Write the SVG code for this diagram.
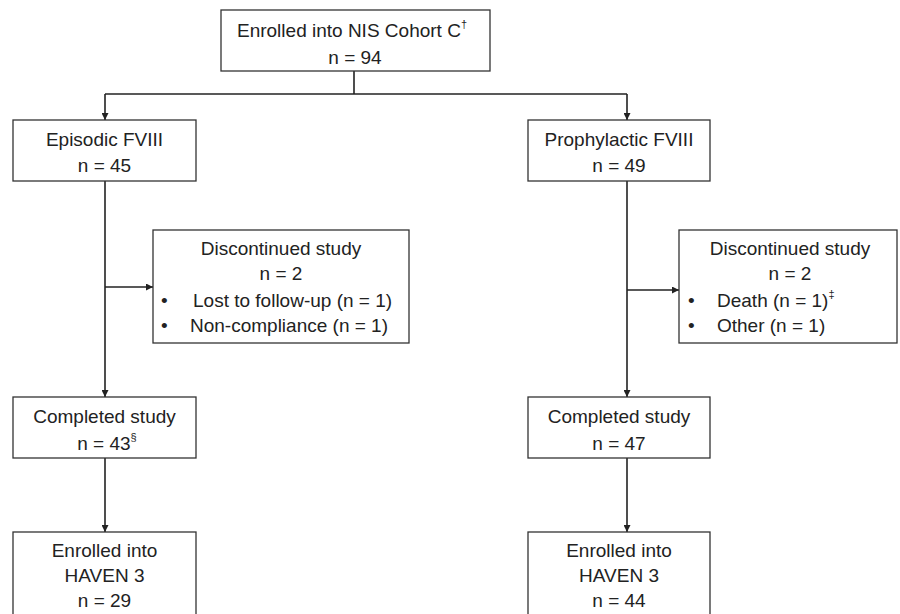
<svg xmlns="http://www.w3.org/2000/svg" width="900" height="614" viewBox="0 0 900 614">
<style>
.box{fill:#fff;stroke:#333;stroke-width:1.3}
.t{font-family:"Liberation Sans",Arial,sans-serif;font-size:19px;fill:#222;text-anchor:middle}
.l{text-anchor:start}
.sup{font-size:11px}
.c{fill:none;stroke:#222;stroke-width:1.6}
</style>
<defs>
<marker id="ah" viewBox="0 0 10 10" refX="10" refY="5" markerWidth="7" markerHeight="7" markerUnits="userSpaceOnUse" orient="auto">
<path d="M0,0 L10,5 L0,10 z" fill="#222"/>
</marker>
</defs>
<rect width="900" height="614" fill="#fff"/>
<g id="connectors">
<path class="c" d="M354,71 V94"/>
<path class="c" d="M105,94 H627" />
<path class="c" d="M105,94 V120" marker-end="url(#ah)"/>
<path class="c" d="M627,94 V120" marker-end="url(#ah)"/>
<path class="c" d="M105,181 V397" marker-end="url(#ah)"/>
<path class="c" d="M105,287 H153" marker-end="url(#ah)"/>
<path class="c" d="M627,181 V397" marker-end="url(#ah)"/>
<path class="c" d="M627,290 H679" marker-end="url(#ah)"/>
<path class="c" d="M105,458 V532" marker-end="url(#ah)"/>
<path class="c" d="M627,458 V532" marker-end="url(#ah)"/>
</g>
<g id="n-enrolled">
<rect class="box" x="221" y="10" width="269" height="61"/>
<text class="t" x="352" y="37">Enrolled into NIS Cohort C<tspan class="sup" dy="-9">†</tspan></text>
<text class="t" x="355" y="64">n = 94</text>
</g>
<g id="n-episodic">
<rect class="box" x="13" y="120" width="183" height="61"/>
<text class="t" x="104.5" y="146">Episodic FVIII</text>
<text class="t" x="104.5" y="172">n = 45</text>
</g>
<g id="n-prophylactic">
<rect class="box" x="528" y="120" width="182" height="61"/>
<text class="t" x="619" y="146">Prophylactic FVIII</text>
<text class="t" x="619" y="172">n = 49</text>
</g>
<g id="n-disc-left">
<rect class="box" x="153" y="230" width="256" height="113"/>
<text class="t" x="281" y="255">Discontinued study</text>
<text class="t" x="281" y="280">n = 2</text>
<text class="t l" x="161" y="307">•</text>
<text class="t l" x="193" y="307">Lost to follow-up (n = 1)</text>
<text class="t l" x="161" y="332">•</text>
<text class="t l" x="190" y="332">Non-compliance (n = 1)</text>
</g>
<g id="n-disc-right">
<rect class="box" x="679" y="230" width="218" height="113"/>
<text class="t" x="790" y="255">Discontinued study</text>
<text class="t" x="790" y="280">n = 2</text>
<text class="t l" x="688" y="307">•</text>
<text class="t l" x="717" y="307">Death (n = 1)<tspan class="sup" dy="-9">‡</tspan></text>
<text class="t l" x="688" y="332">•</text>
<text class="t l" x="717" y="332">Other (n = 1)</text>
</g>
<g id="n-completed-left">
<rect class="box" x="13" y="397" width="183" height="61"/>
<text class="t" x="104.5" y="423">Completed study</text>
<text class="t" x="107" y="450">n = 43<tspan class="sup" dy="-9">§</tspan></text>
</g>
<g id="n-completed-right">
<rect class="box" x="528" y="397" width="182" height="61"/>
<text class="t" x="619" y="423">Completed study</text>
<text class="t" x="619" y="450">n = 47</text>
</g>
<g id="n-haven-left">
<rect class="box" x="13" y="532" width="183" height="100"/>
<text class="t" x="104.5" y="557">Enrolled into</text>
<text class="t" x="104.5" y="582">HAVEN 3</text>
<text class="t" x="104.5" y="607">n = 29</text>
</g>
<g id="n-haven-right">
<rect class="box" x="528" y="532" width="182" height="100"/>
<text class="t" x="619" y="557">Enrolled into</text>
<text class="t" x="619" y="582">HAVEN 3</text>
<text class="t" x="619" y="607">n = 44</text>
</g>
</svg>
